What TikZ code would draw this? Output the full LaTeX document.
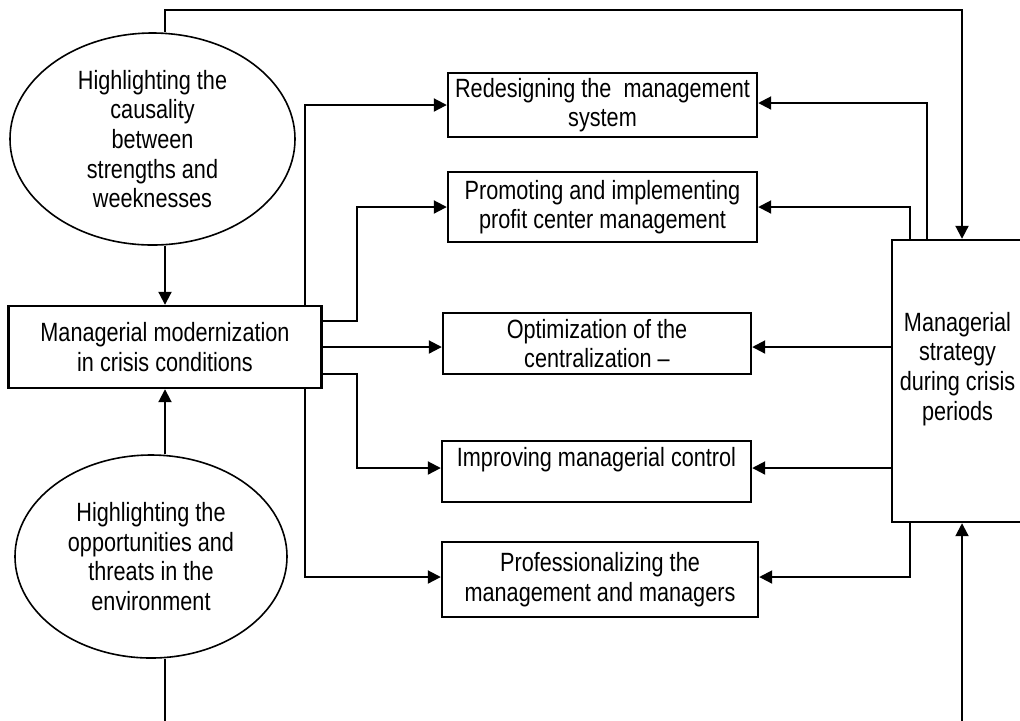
\documentclass[tikz,border=0pt]{standalone}
\usepackage{fontspec}
\setmainfont[FakeStretch=0.82]{Liberation Sans}
\usetikzlibrary{arrows.meta,shapes.geometric,calc}
\begin{document}
\begin{tikzpicture}[x=0.5pt,y=-0.5pt,
  txt/.style={font=\fontsize{13.2}{14.8}\selectfont, align=center, inner sep=0pt},
  oval/.style={txt, ellipse, draw, line width=0.8pt},
  rbox/.style={txt, rectangle, draw, line width=1.2pt},
  conn/.style={line width=1pt},
  arr/.style={conn, -{Triangle[length=6.5pt,width=6.5pt]}}]
\useasboundingbox (0,0) rectangle (1020,720);
\fill[white] (0,0) rectangle (1020,720);
\clip (0,0) rectangle (1020,720);

\node[oval, minimum width=142.5pt, minimum height=106pt] (e1) at (152.5,139)
  {Highlighting the\\causality\\between\\strengths and\\weeknesses};
\node[oval, minimum width=136pt, minimum height=101.5pt] (e2) at (151,556.5)
  {Highlighting the\\opportunities and\\threats in the\\environment};
\node[rbox, minimum width=156.5pt, minimum height=41pt] (mm) at (165,347)
  {Managerial modernization\\in crisis conditions};
\node[rbox, minimum width=154.5pt, minimum height=32pt] (b1) at (602.5,105)
  {Redesigning the\ \ management\\system};
\node[rbox, minimum width=154.5pt, minimum height=35pt] (b2) at (602.5,207)
  {Promoting and implementing\\profit center management};
\node[rbox, minimum width=154pt, minimum height=30.5pt] (b3) at (597,343.5)
  {Optimization of the\\centralization –};
\node[rbox, minimum width=154.5pt, minimum height=30.5pt] (b4) at (596.5,471.5)
  {Improving managerial control\\\mbox{}};
\node[rbox, minimum width=158pt, minimum height=37.5pt] (b5) at (600,579.5)
  {Professionalizing the\\management and managers};
\node[rbox, minimum width=65.5pt, minimum height=141pt] (r) at (957.5,381)
  {Managerial\\strategy\\during crisis\\periods\\\mbox{}};

\coordinate (tr) at (962,10);
\coordinate (bl) at (165,725);
\coordinate (br) at (962,725);

% outer loop
\draw[arr] (e1.north -| mm.north) |- (tr) -- (tr |- r.north);
\draw[conn] (e2.south -| mm.south) -- (bl);
\draw[arr] (br) -- (br |- r.south);

% ellipses to central box
\draw[arr] (e1.south -| mm.north) -- (mm.north);
\draw[arr] (e2.north -| mm.south) -- (mm.south);

% central box to the five boxes
\draw[arr] ($(mm.north east)+(-18,0)$) |- (b1.west);
\draw[arr] ($(mm.east)+(0,-26)$) -- ++(34,0) |- (b2.west);
\draw[arr] (mm.east) -- (mm.east -| b3.west);
\draw[arr] ($(mm.east)+(0,27)$) -- ++(34,0) |- ($(b4.west)+(0,-3.5)$);
\draw[arr] ($(mm.south east)+(-18,0)$) |- ($(b5.west)+(0,-2.5)$);

% strategy box to the five boxes
\draw[arr] ($(r.north west)+(36,0)$) |- ($(b1.east)+(0,-2)$);
\draw[arr] ($(r.north west)+(19,0)$) |- (b2.east);
\draw[arr] (r.west |- mm.east) -- (mm.east -| b3.east);
\draw[arr] (r.west |- b4.west) ++(0,-3.5) -- ($(b4.east)+(0,-3.5)$);
\draw[arr] ($(r.south west)+(19,0)$) |- ($(b5.east)+(0,-2.5)$);
\end{tikzpicture}
\end{document}
